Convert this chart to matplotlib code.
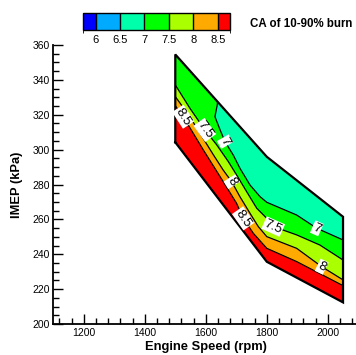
import numpy as np
import matplotlib
matplotlib.use("Agg")
import matplotlib.pyplot as plt
from matplotlib.patches import Polygon
from matplotlib.colors import ListedColormap, BoundaryNorm
from matplotlib.cm import ScalarMappable
from matplotlib.ticker import MultipleLocator

plt.rcParams['font.family'] = ['Liberation Sans', 'DejaVu Sans']

# legend levels (CA 10-90 burn, deg)
levels = [5.75, 6, 6.5, 7, 7.5, 8, 8.5, 8.75]
level_colors = ['#0000ff', '#00aaff', '#00ffaa', '#00ff00', '#aaff00', '#ffaa00', '#ff0000']
cbar_ticks = [6, 6.5, 7, 7.5, 8, 8.5]

# borda do mapa de operacao
speed_edge = [1500, 1800, 2050]
imep_low = [304.2, 235.7, 212.4]
imep_high = [354.6, 295.9, 261.5]

# isolinhas
rpm_85 = [1500, 1526, 1592, 1657, 1701, 1723, 1756, 1800, 1898, 2050]
imep_85 = [325.2, 318.9, 299.8, 281.7, 269.2, 260.6, 252.0, 243.4, 235.8, 222.0]

rpm_8 = [1500, 1544, 1588, 1625, 1657, 1685, 1712, 1745, 1772, 1800, 1898, 1980, 2050]
imep_8 = [330.4, 319.9, 307.4, 297.0, 288.3, 281.6, 273.0, 263.5, 255.9, 250.1, 243.4, 232.9, 225.3]

rpm_75 = [1500, 1548, 1597, 1636, 1674, 1701, 1734, 1767, 1800, 1821, 1898, 1974, 2050]
imep_75 = [337.1, 323.7, 311.3, 302.7, 293.1, 285.5, 275.9, 266.4, 260.6, 255.9, 251.1, 245.3, 236.7]

rpm_7 = [1650, 1638, 1630, 1647, 1663, 1690, 1712, 1745, 1778, 1800, 1898, 1964, 2050]
imep_7 = [360.0, 326.0, 318.9, 311.3, 304.6, 296.9, 289.3, 279.7, 273.0, 269.8, 262.5, 254.9, 248.2]

iso_lines = {8.5: (rpm_85, imep_85), 8: (rpm_8, imep_8),
             7.5: (rpm_75, imep_75), 7: (rpm_7, imep_7)}

# rotulos das isolinhas: (nivel, rpm, imep, angulo)
label_spots = [(8.5, 1526, 318.9, -57), (7.5, 1597, 311.3, -54), (7, 1663, 304.6, -60),
               (8, 1685, 281.6, -58), (8.5, 1723, 260.6, -55), (7.5, 1821, 255.9, -24),
               (7, 1964, 254.9, -24), (8, 1980, 232.9, -26)]

fig = plt.figure(figsize=(3.56, 3.55), dpi=100)
ax = fig.add_axes([0.1497, 0.0873, 0.8567, 0.7859])

bx = speed_edge + speed_edge[::-1]
by = imep_low + imep_high[::-1]
domain = Polygon(np.column_stack([bx, by]), closed=True, transform=ax.transData)

# fundo vermelho (> 8.5) e faixas acima de cada isolinha
ax.fill(bx, by, color=level_colors[-1], lw=0)
for lvl in [8.5, 8, 7.5, 7]:
    r, m = iso_lines[lvl]
    c = level_colors[levels.index(lvl) - 1]
    xs = list(r) + [2100, 2100, 1400, 1400]
    ys = list(m) + [m[-1], 400, 400, m[0]]
    p = ax.fill(xs, ys, color=c, lw=0)[0]
    p.set_clip_path(domain)

for lvl, (r, m) in iso_lines.items():
    ln, = ax.plot(r, m, color='black', lw=0.9)
    ln.set_clip_path(domain)

ax.plot(bx + bx[:1], by + by[:1], color='black', lw=1.6, solid_joinstyle='miter', zorder=4)

for lvl, x, y, rot in label_spots:
    ax.text(x, y, f'{lvl:g}', rotation=rot, rotation_mode='anchor', ha='center', va='center',
            fontsize=9.5, zorder=6, bbox=dict(fc='white', ec='none', pad=0.6))

ax.set_xlim(1100, 2100)
ax.set_ylim(200, 360)
ax.spines[['top', 'right']].set_visible(False)
ax.spines[['left', 'bottom']].set_linewidth(1.3)
ax.xaxis.set_major_locator(MultipleLocator(200))
ax.xaxis.set_minor_locator(MultipleLocator(40))
ax.yaxis.set_major_locator(MultipleLocator(20))
ax.yaxis.set_minor_locator(MultipleLocator(5))
ax.tick_params(which='both', direction='in', width=1.0, labelsize=7.5, top=False, right=False)
ax.tick_params(which='major', length=7)
ax.tick_params(which='minor', length=4)
ax.tick_params(axis='y', pad=2.5)
ax.tick_params(axis='x', pad=3)
ax.set_xlabel('Engine Speed (rpm)', fontsize=9.3, fontweight='bold', labelpad=2)
ax.set_ylabel('IMEP (kPa)', fontsize=9.3, fontweight='bold', labelpad=7)

# legenda de cores
cax = fig.add_axes([0.234, 0.9155, 0.412, 0.047])
norm = BoundaryNorm(levels, len(level_colors))
sm = ScalarMappable(norm=norm, cmap=ListedColormap(level_colors))
cb = fig.colorbar(sm, cax=cax, orientation='horizontal', boundaries=levels,
                  spacing='proportional', ticks=cbar_ticks, drawedges=True)
cb.outline.set_linewidth(1.0)
cb.dividers.set_linewidth(1.0)
cb.ax.tick_params(length=0, labelsize=8, pad=3.5)
cb.ax.set_xticklabels([f'{t:g}' for t in cbar_ticks])
fig.text(0.702, 0.932, 'CA of 10-90% burn', fontsize=8.3, fontweight='bold', ha='left', va='center')

fig.savefig('out.png', dpi=100)
